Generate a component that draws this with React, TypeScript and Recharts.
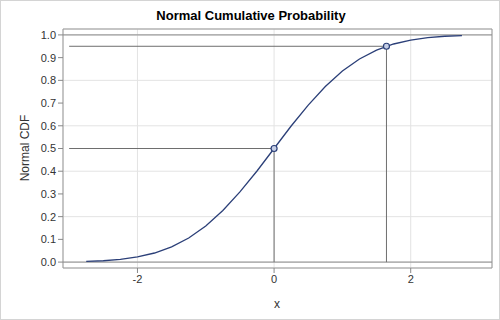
import React from 'react';
import {
  ComposedChart, Line, Scatter, XAxis, YAxis, CartesianGrid, ReferenceLine, ReferenceArea,
} from 'recharts';

const xValues = [-2.75, -2.5, -2.25, -2, -1.75, -1.5, -1.25, -1, -0.75, -0.5, -0.25, 0, 0.25, 0.5, 0.75, 1, 1.25, 1.5, 1.75, 2, 2.25, 2.5, 2.75];
const cdfValues = [0.003, 0.006, 0.012, 0.023, 0.04, 0.067, 0.106, 0.159, 0.227, 0.309, 0.401, 0.5, 0.599, 0.691, 0.773, 0.841, 0.894, 0.933, 0.96, 0.977, 0.988, 0.994, 0.997];
const markerX = [0, 1.645];
const markerY = [0.5, 0.95];
const xTicks = [-2, 0, 2];
const yTicks = [0, 0.1, 0.2, 0.3, 0.4, 0.5, 0.6, 0.7, 0.8, 0.9, 1.0];
const xDomain = [-3.09, 3.19];
const yDomain = [-0.026, 1.026];
const refStartX = -3;

const curveData = xValues.map((x, i) => ({ x, y: cdfValues[i] }));
const markerData = markerX.map((x, i) => ({ x, y: markerY[i] }));

const font = '"Liberation Sans", Arial, sans-serif';
const refColor = '#6e6e6e';

const Dot = (props: any) => {
  const { cx, cy } = props;
  return <circle cx={cx} cy={cy} r={3} fill="#c6cfe6" stroke="#2b3f78" strokeWidth={1.2} />;
};

export default function App() {
  return (
    <div style={{ position: 'absolute', left: 0, top: 0, width: 500, height: 320, background: '#fff', boxSizing: 'border-box', border: '1px solid #d4d4d4', fontFamily: font }}>
      <div style={{ position: 'absolute', left: 0, top: 7, width: 500, textAlign: 'center', fontSize: 13, fontWeight: 'bold', color: '#000' }}>
        Normal Cumulative Probability
      </div>
      <div style={{ position: 'absolute', left: -1, top: -1 }}>
        <ComposedChart width={500} height={320} margin={{ top: 29, right: 8, bottom: 0, left: 10 }}>
          <CartesianGrid stroke="#e3e3e3" strokeWidth={1} />
          <XAxis
            dataKey="x"
            type="number"
            domain={xDomain}
            ticks={xTicks}
            allowDataOverflow
            height={52}
            axisLine={false}
            tickLine={{ stroke: '#888' }}
            tickSize={5}
            tick={{ fill: '#333', fontSize: 11, fontFamily: font }}
            tickFormatter={(v: number) => String(v)}
            label={{ content: () => <text x={277} y={308} textAnchor="middle" fontSize={12} fill="#333" fontFamily={font}>x</text> }}
          />
          <YAxis
            dataKey="y"
            type="number"
            domain={yDomain}
            ticks={yTicks}
            allowDataOverflow
            width={53}
            axisLine={false}
            tickLine={{ stroke: '#888' }}
            tickSize={5}
            tick={{ fill: '#333', fontSize: 11, fontFamily: font }}
            tickFormatter={(v: number) => v.toFixed(1)}
            label={{ content: () => <text x={29} y={148} transform="rotate(-90 29 148)" textAnchor="middle" fontSize={12} fill="#333" fontFamily={font}>Normal CDF</text> }}
          />
          <ReferenceArea x1={xDomain[0]} x2={xDomain[1]} y1={yDomain[0]} y2={yDomain[1]} fill="none" stroke="#999" strokeWidth={1} />
          <ReferenceLine y={0} stroke="#8a8a8a" />
          <ReferenceLine y={1} stroke="#8a8a8a" />
          <ReferenceLine segment={[{ x: refStartX, y: markerY[1] }, { x: markerX[1], y: markerY[1] }]} stroke={refColor} />
          <ReferenceLine segment={[{ x: markerX[1], y: markerY[1] }, { x: markerX[1], y: 0 }]} stroke={refColor} />
          <ReferenceLine segment={[{ x: refStartX, y: markerY[0] }, { x: markerX[0], y: markerY[0] }]} stroke={refColor} />
          <ReferenceLine segment={[{ x: markerX[0], y: markerY[0] }, { x: markerX[0], y: 0 }]} stroke={refColor} />
          <Line data={curveData} dataKey="y" type="linear" stroke="#2b3f78" strokeWidth={1.3} dot={false} isAnimationActive={false} />
          <Scatter data={markerData} dataKey="y" shape={<Dot />} isAnimationActive={false} />
        </ComposedChart>
      </div>
    </div>
  );
}
